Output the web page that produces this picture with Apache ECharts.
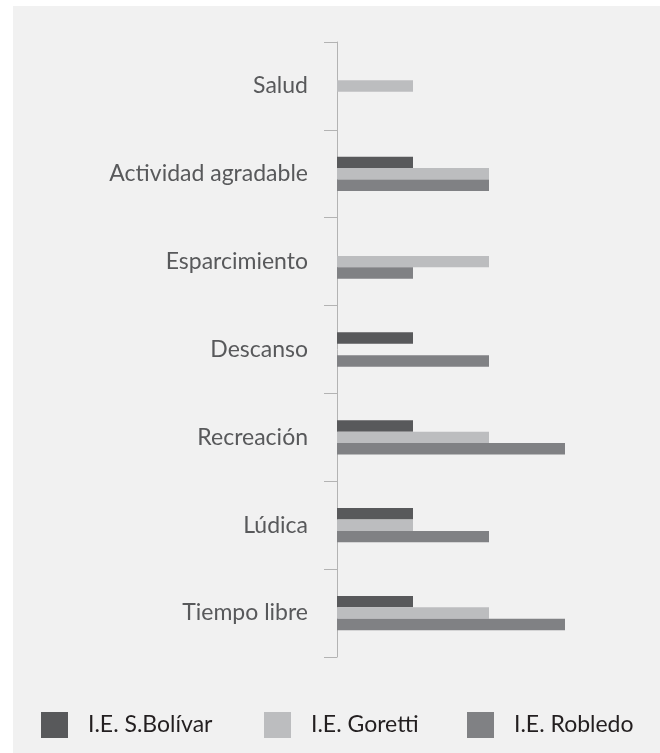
<!DOCTYPE html>
<html>
<head>
<meta charset="utf-8">
<script src="https://cdn.jsdelivr.net/npm/echarts@6/dist/echarts.min.js"></script>
<style>
html,body{margin:0;padding:0;background:#ffffff;}
#chart{width:660px;height:753px;}
</style>
</head>
<body>
<div id="chart"></div>
<script>
const categories = ['Salud', 'Actividad agradable', 'Esparcimiento', 'Descanso', 'Recreación', 'Lúdica', 'Tiempo libre'];
const seriesNames = ['I.E. S.Bolívar', 'I.E. Goretti', 'I.E. Robledo'];
const bolivar = [0, 1, 0, 1, 1, 1, 1];
const goretti = [1, 2, 2, 0, 2, 1, 2];
const robledo = [0, 2, 1, 2, 3, 2, 3];
const colors = ['#58595b', '#bcbdbf', '#808184'];

const chart = echarts.init(document.getElementById('chart'));
const values = [bolivar, goretti, robledo];
const legendLefts = [41, 264, 467];
chart.setOption({
  animation: false,
  backgroundColor: '#ffffff',
  graphic: [{
    type: 'rect', left: 13, top: 6, z: -10,
    shape: {width: 647, height: 747},
    style: {fill: '#f1f1f1'}
  }],
  grid: {left: 337, right: 19, top: 42, bottom: 96},
  xAxis: {type: 'value', min: 0, max: 4, show: false},
  yAxis: {
    type: 'category', inverse: true, data: categories,
    axisLine: {show: true, lineStyle: {color: '#b3b3b3', width: 1}},
    axisTick: {show: true, length: 13, lineStyle: {color: '#b3b3b3'}},
    axisLabel: {margin: 29, fontFamily: 'Lato', fontSize: 23, color: '#58595b'}
  },
  legend: seriesNames.map((n, i) => ({
    left: legendLefts[i], top: 712, padding: 0, itemWidth: 27, itemHeight: 26,
    icon: 'rect',
    textStyle: {fontFamily: 'Lato', fontSize: 23, color: '#231f20', padding: [0, 0, 0, 15]},
    data: [n]
  })),
  series: seriesNames.map((n, i) => ({
    name: n, type: 'bar', data: values[i],
    itemStyle: {color: colors[i]},
    barGap: '0%', barCategoryGap: '61%'
  }))
});
</script>
</body>
</html>
